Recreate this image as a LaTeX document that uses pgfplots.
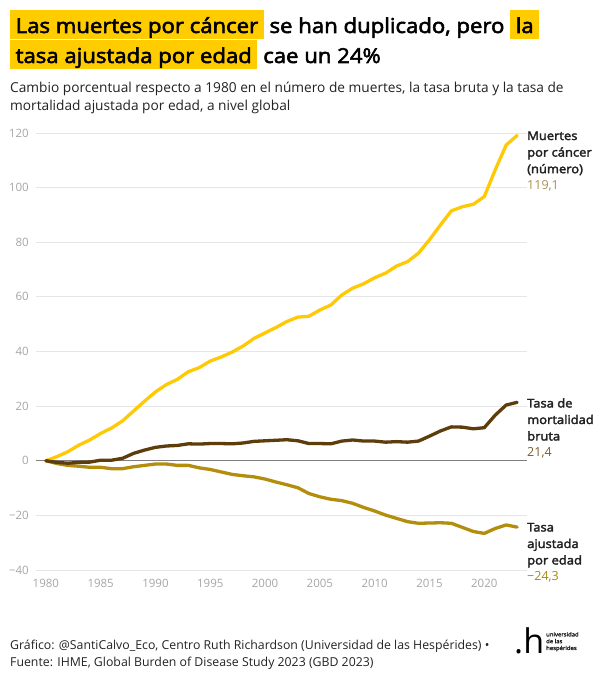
\documentclass[border=0pt]{standalone}
\usepackage{fontspec}
\setmainfont{Open Sans}[BoldFont={Open Sans}, BoldFeatures={FakeBold=2.8, FakeStretch=1.08}]
\usepackage{pgfplots}
\pgfplotsset{compat=1.18}
\definecolor{cyel}{HTML}{FFCA05}
\definecolor{cbrown}{HTML}{5C3D0B}
\definecolor{cgold}{HTML}{B38E0C}
\definecolor{hl}{HTML}{FFCC00}
\definecolor{gridc}{HTML}{E6E6E6}
\definecolor{tickc}{HTML}{A6A6A6}
\definecolor{zeroc}{HTML}{7F7F7F}
\definecolor{vyel}{HTML}{A8904E}
\definecolor{vbrown}{HTML}{7A5C2E}
\definecolor{vgold}{HTML}{A8860F}
\definecolor{txt}{HTML}{222222}
\begin{document}
\begin{tikzpicture}
\useasboundingbox (0pt,0pt) rectangle (602pt,680pt);
% title
\tikzset{ttl/.style={anchor=base west, inner xsep=5.5pt, inner ysep=0pt, text height=23pt, text depth=6pt, font=\fontsize{20.5}{24}\selectfont\bfseries, text=black}}
\node[ttl, fill=hl] (a) at (10pt,647pt) {Las muertes por cáncer};
\node[ttl] (b) at (a.base east) {se han duplicado, pero};
\node[ttl, fill=hl] (c) at (b.base east) {la};
\node[ttl, fill=hl] (d) at (10pt,617pt) {tasa ajustada por edad};
\node[ttl] (e) at (d.base east) {cae un 24\%};
% subtitle
\tikzset{sub/.style={anchor=base west, inner sep=0pt, font=\fontsize{13.7}{18}\selectfont, text=txt}}
\node[sub] at (10pt,587pt) {Cambio porcentual respecto a 1980 en el número de muertes, la tasa bruta y la tasa de};
\node[sub] at (10pt,569pt) {mortalidad ajustada por edad, a nivel global};
\begin{axis}[
  at={(36pt,110pt)}, anchor=south west, scale only axis,
  width=491pt, height=437pt,
  xmin=1979.1, xmax=2023.9, ymin=-40, ymax=120,
  axis line style={draw=none}, tick style={draw=none},
  ytick={-40,-20,0,20,40,60,80,100,120},
  yticklabels={−40,−20,0,20,40,60,80,100,120},
  xtick={1980,1985,1990,1995,2000,2005,2010,2015,2020},
  xticklabels={1980,1985,1990,1995,2000,2005,2010,2015,2020},
  ymajorgrids, grid style={gridc, line width=0.9pt},
  ticklabel style={font=\fontsize{11.5}{13}\selectfont, text=tickc},
  yticklabel style={inner sep=0pt, xshift=-7pt},
  xticklabel style={inner sep=0pt, yshift=-9pt},
  clip=false,
]
\addplot[zeroc, line width=1.3pt, forget plot] coordinates {(1979.1,0) (2023.9,0)};
\addplot[cyel, line width=3.3pt, line join=round, line cap=round] coordinates {
(1980,0) (1981,1.5) (1982,3.3) (1983,5.7) (1984,7.6) (1985,10.0) (1986,12.0) (1987,14.6) (1988,18.2) (1989,21.8)
(1990,25.2) (1991,27.9) (1992,29.8) (1993,32.6) (1994,34.1) (1995,36.5) (1996,38.0) (1997,39.8) (1998,42.0) (1999,44.8)
(2000,46.8) (2001,48.8) (2002,51.0) (2003,52.6) (2004,52.9) (2005,55.2) (2006,57.0) (2007,60.7) (2008,63.2) (2009,64.8)
(2010,67.0) (2011,68.7) (2012,71.3) (2013,72.9) (2014,76.0) (2015,80.9) (2016,86.3) (2017,91.5) (2018,93.0) (2019,93.9)
(2020,96.7) (2021,106.5) (2022,115.6) (2023,119.1)};
\addplot[cgold, line width=3.3pt, line join=round, line cap=round] coordinates {
(1980,0) (1981,-1.0) (1982,-1.7) (1983,-2.0) (1984,-2.4) (1985,-2.4) (1986,-2.9) (1987,-2.9) (1988,-2.2) (1989,-1.7)
(1990,-1.2) (1991,-1.2) (1992,-1.7) (1993,-1.7) (1994,-2.6) (1995,-3.2) (1996,-4.1) (1997,-5.0) (1998,-5.5) (1999,-5.9)
(2000,-6.7) (2001,-7.8) (2002,-8.8) (2003,-9.9) (2004,-12.0) (2005,-13.2) (2006,-14.1) (2007,-14.6) (2008,-15.6) (2009,-17.1)
(2010,-18.4) (2011,-19.9) (2012,-21.1) (2013,-22.3) (2014,-22.9) (2015,-22.8) (2016,-22.7) (2017,-22.9) (2018,-24.4) (2019,-25.9)
(2020,-26.6) (2021,-24.8) (2022,-23.5) (2023,-24.3)};
\addplot[cbrown, line width=3.3pt, line join=round, line cap=round] coordinates {
(1980,0) (1981,-0.6) (1982,-0.9) (1983,-0.6) (1984,-0.5) (1985,0.2) (1986,0.2) (1987,0.9) (1988,2.7) (1989,3.9)
(1990,4.9) (1991,5.4) (1992,5.6) (1993,6.2) (1994,6.1) (1995,6.3) (1996,6.3) (1997,6.2) (1998,6.5) (1999,7.1)
(2000,7.3) (2001,7.5) (2002,7.7) (2003,7.3) (2004,6.3) (2005,6.3) (2006,6.2) (2007,7.2) (2008,7.6) (2009,7.2)
(2010,7.2) (2011,6.8) (2012,7.0) (2013,6.8) (2014,7.2) (2015,9.0) (2016,10.9) (2017,12.4) (2018,12.3) (2019,11.7)
(2020,12.1) (2021,16.7) (2022,20.4) (2023,21.4)};
\end{axis}
% end labels
\tikzset{lb/.style={anchor=base west, inner sep=0pt, font=\fontsize{12}{15}\selectfont\bfseries, text=txt},
         lv/.style={anchor=base west, inner sep=0pt, font=\fontsize{12.5}{15}\selectfont}}
\node[lb] at (527pt,540pt) {Muertes};
\node[lb] at (527pt,523.4pt) {por cáncer};
\node[lb] at (527pt,506.8pt) {(número)};
\node[lv, text=vyel] at (527pt,490.2pt) {119,1};
\node[lb] at (527pt,272.5pt) {Tasa de};
\node[lb] at (527pt,256pt) {mortalidad};
\node[lb] at (527pt,239.5pt) {bruta};
\node[lv, text=vbrown] at (527pt,223pt) {21,4};
\node[lb] at (527pt,148.5pt) {Tasa};
\node[lb] at (527pt,132pt) {ajustada};
\node[lb] at (527pt,115.5pt) {por edad};
\node[lv, text=vgold] at (527pt,99pt) {−24,3};
% footer
\tikzset{ft/.style={anchor=base west, inner sep=0pt, font=\fontsize{12.3}{15}\selectfont, text=txt}}
\node[ft] at (10pt,30pt) {Gráfico: @SantiCalvo\_Eco, Centro Ruth Richardson (Universidad de las Hespérides) •};
\node[ft] at (10pt,13.3pt) {Fuente: IHME, Global Burden of Disease Study 2023 (GBD 2023)};
% logo
\node[anchor=base west, inner sep=0pt, font=\fontsize{34}{34}\selectfont, text=black] at (514pt,27pt) {.h};
\node[anchor=north west, inner sep=0pt, align=left, font=\fontsize{5.5}{6.8}\selectfont\bfseries, text=txt] at (546pt,48pt) {universidad\\de las\\hespérides};
\end{tikzpicture}
\end{document}
